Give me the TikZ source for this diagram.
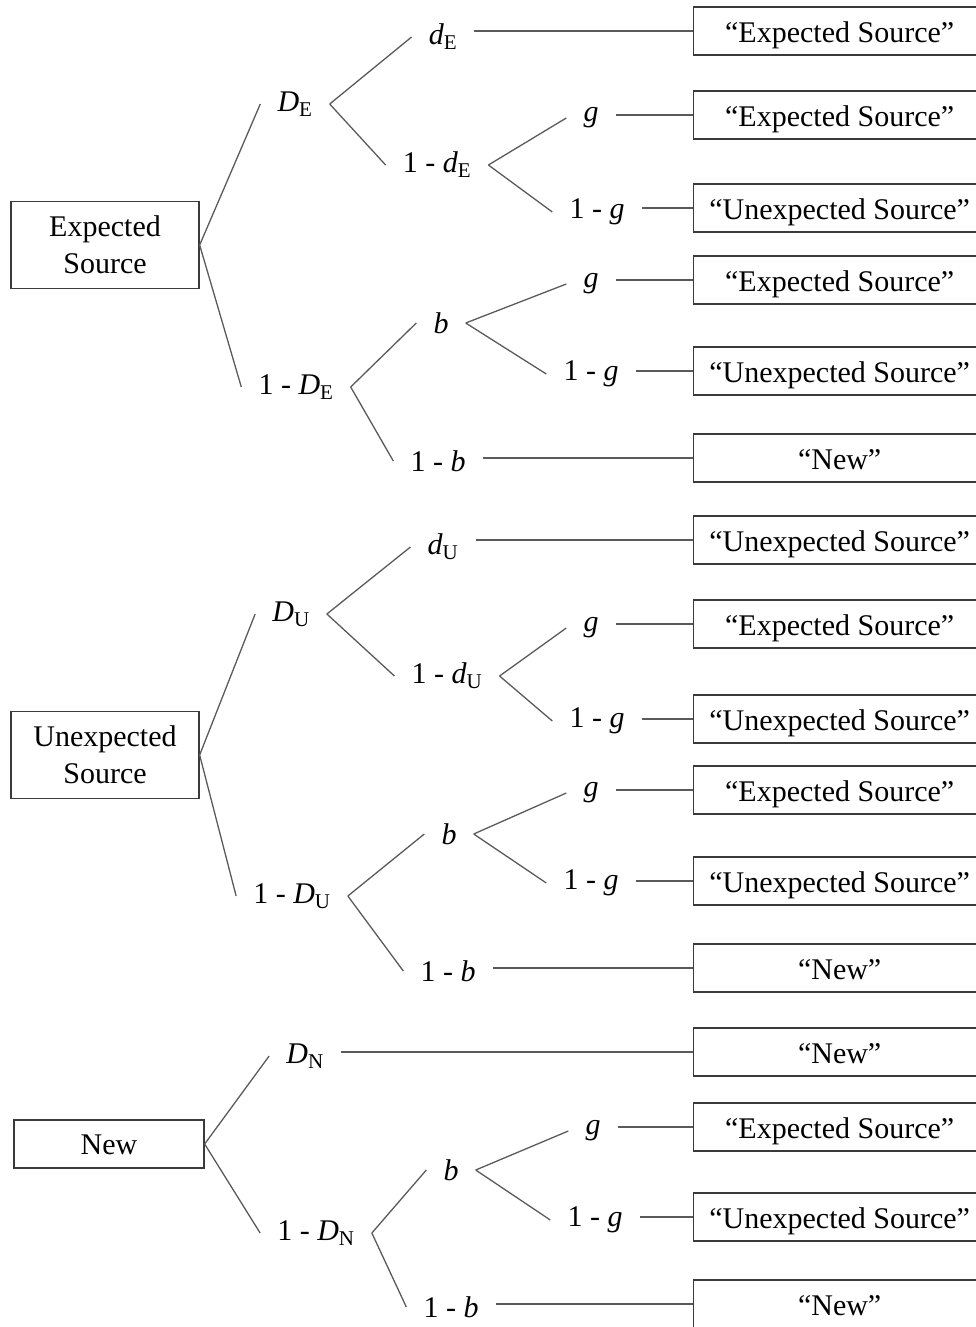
\documentclass[tikz,border=0pt]{standalone}
\usepackage{fontspec}
\setmainfont{Liberation Serif}
\definecolor{edge}{HTML}{5A5A5A}
\definecolor{frame}{HTML}{3A3A3A}
\newcommand{\pv}[2]{\textit{#1}\textsubscript{#2}}
\tikzset{
  box/.style={draw=frame,line width=1.3pt,inner sep=0pt,align=center,fill=white},
  rbox/.style={box,minimum width=188pt,minimum height=87pt},
  obox/.style={box,anchor=west,minimum width=292pt,minimum height=48pt,text height=27pt,text depth=4pt},
  lab/.style={inner xsep=17pt,inner ysep=0pt},
  br/.style={draw=edge,line width=1.3pt},
}
\begin{document}
\begin{tikzpicture}[x=1pt,y=-1pt,every node/.style={font=\fontsize{30}{37}\selectfont}]
\useasboundingbox (0,0) rectangle (976,1327);
% expected source
\node[rbox] (es) at (105,245) {Expected\\Source};
\node[lab] (es-D) at (295,104) {\pv{D}{E}};
\node[lab] (es-nD) at (296,387) {1 - \pv{D}{E}};
\node[lab] (es-d) at (443,37) {\pv{d}{E}};
\node[lab] (es-nd) at (437,165) {1 - \pv{d}{E}};
\node[lab] (es-b) at (441,323) {\textit{b}};
\node[lab] (es-nb) at (438,461) {1 - \textit{b}};
\node[lab] (es-g1) at (591,118) {\textit{g}};
\node[lab] (es-ng1) at (597,212) {1 - \textit{g}};
\node[lab] (es-g2) at (591,284) {\textit{g}};
\node[lab] (es-ng2) at (591,374) {1 - \textit{g}};
\node[obox] (es-o1) at (693,31) {“Expected Source”};
\node[obox] (es-o2) at (693,115) {“Expected Source”};
\node[obox] (es-o3) at (693,208) {“Unexpected Source”};
\node[obox] (es-o4) at (693,280) {“Expected Source”};
\node[obox] (es-o5) at (693,371) {“Unexpected Source”};
\node[obox] (es-o6) at (693,458) {“New”};
\draw[br] (es.east) -- (es-D.west) (es.east) -- (es-nD.west);
\draw[br] (es-D.east) -- (es-d.west) (es-D.east) -- (es-nd.west);
\draw[br] (es-nd.east) -- (es-g1.west) (es-nd.east) -- (es-ng1.west);
\draw[br] (es-nD.east) -- (es-b.west) (es-nD.east) -- (es-nb.west);
\draw[br] (es-b.east) -- (es-g2.west) (es-b.east) -- (es-ng2.west);
\foreach \a/\b in {es-d/es-o1,es-g1/es-o2,es-ng1/es-o3,es-g2/es-o4,es-ng2/es-o5,es-nb/es-o6}
  \draw[br] (\b.west) -- (\b.west -| \a.east);
% unexpected source
\node[rbox] (us) at (105,755) {Unexpected\\Source};
\node[lab] (us-D) at (291,614) {\pv{D}{U}};
\node[lab] (us-nD) at (292,896) {1 - \pv{D}{U}};
\node[lab] (us-d) at (443,547) {\pv{d}{U}};
\node[lab] (us-nd) at (447,676) {1 - \pv{d}{U}};
\node[lab] (us-b) at (449,834) {\textit{b}};
\node[lab] (us-nb) at (448,971) {1 - \textit{b}};
\node[lab] (us-g1) at (591,628) {\textit{g}};
\node[lab] (us-ng1) at (597,721) {1 - \textit{g}};
\node[lab] (us-g2) at (591,793) {\textit{g}};
\node[lab] (us-ng2) at (591,883) {1 - \textit{g}};
\node[obox] (us-o1) at (693,540) {“Unexpected Source”};
\node[obox] (us-o2) at (693,624) {“Expected Source”};
\node[obox] (us-o3) at (693,719) {“Unexpected Source”};
\node[obox] (us-o4) at (693,790) {“Expected Source”};
\node[obox] (us-o5) at (693,881) {“Unexpected Source”};
\node[obox] (us-o6) at (693,968) {“New”};
\draw[br] (us.east) -- (us-D.west) (us.east) -- (us-nD.west);
\draw[br] (us-D.east) -- (us-d.west) (us-D.east) -- (us-nd.west);
\draw[br] (us-nd.east) -- (us-g1.west) (us-nd.east) -- (us-ng1.west);
\draw[br] (us-nD.east) -- (us-b.west) (us-nD.east) -- (us-nb.west);
\draw[br] (us-b.east) -- (us-g2.west) (us-b.east) -- (us-ng2.west);
\foreach \a/\b in {us-d/us-o1,us-g1/us-o2,us-ng1/us-o3,us-g2/us-o4,us-ng2/us-o5,us-nb/us-o6}
  \draw[br] (\b.west) -- (\b.west -| \a.east);
% new
\node[box,minimum width=190pt,minimum height=48pt,text height=24pt,text depth=4pt] (nw) at (109,1144) {New};
\node[lab] (nw-D) at (305,1056) {\pv{D}{N}};
\node[lab] (nw-nD) at (316,1233) {1 - \pv{D}{N}};
\node[lab] (nw-b) at (451,1170) {\textit{b}};
\node[lab] (nw-nb) at (451,1307) {1 - \textit{b}};
\node[lab] (nw-g) at (593,1131) {\textit{g}};
\node[lab] (nw-ng) at (595,1220) {1 - \textit{g}};
\node[obox] (nw-o1) at (693,1052) {“New”};
\node[obox] (nw-o2) at (693,1127) {“Expected Source”};
\node[obox] (nw-o3) at (693,1217) {“Unexpected Source”};
\node[obox] (nw-o4) at (693,1304) {“New”};
\draw[br] (nw.east) -- (nw-D.west) (nw.east) -- (nw-nD.west);
\draw[br] (nw-nD.east) -- (nw-b.west) (nw-nD.east) -- (nw-nb.west);
\draw[br] (nw-b.east) -- (nw-g.west) (nw-b.east) -- (nw-ng.west);
\foreach \a/\b in {nw-D/nw-o1,nw-g/nw-o2,nw-ng/nw-o3,nw-nb/nw-o4}
  \draw[br] (\b.west) -- (\b.west -| \a.east);
\end{tikzpicture}
\end{document}
